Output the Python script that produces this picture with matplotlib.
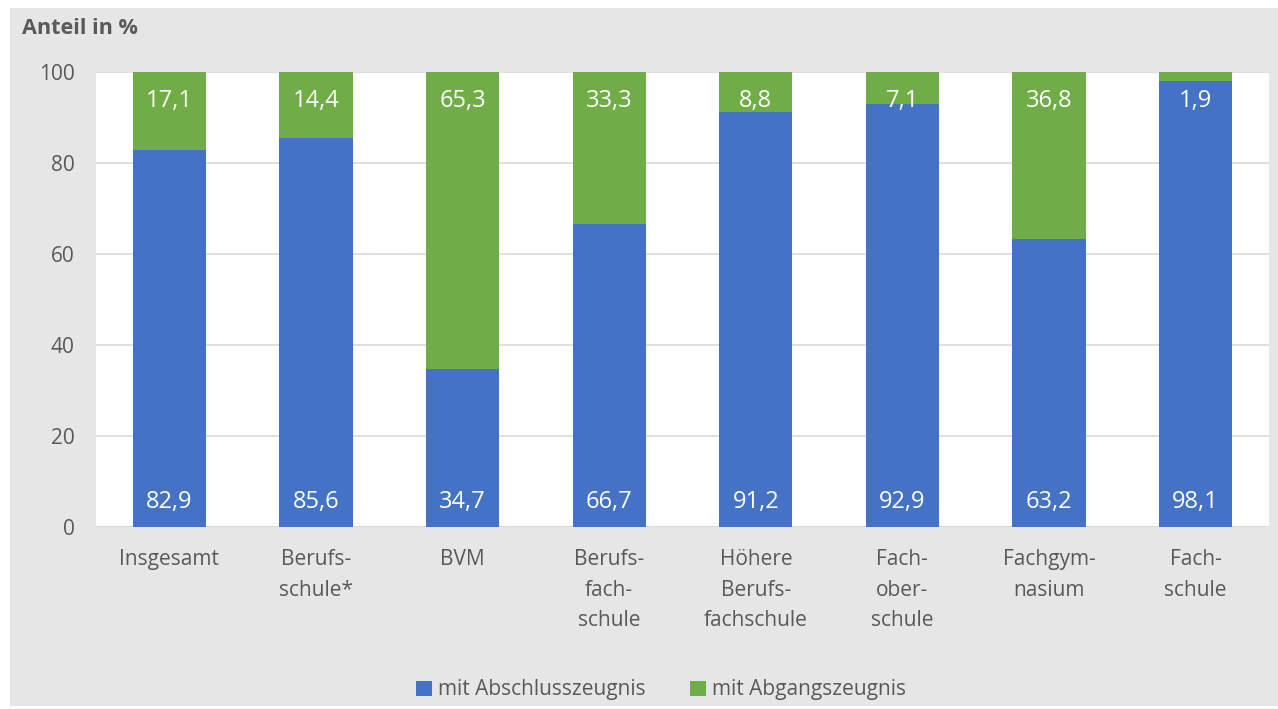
import numpy as np
import matplotlib
matplotlib.use("Agg")
import matplotlib.pyplot as plt
from matplotlib.patches import Rectangle

#-- DATI
kategorien = ["Insgesamt", "Berufs-\nschule*", "BVM", "Berufs-\nfach-\nschule",
              "Höhere\nBerufs-\nfachschule", "Fach-\nober-\nschule", "Fachgym-\nnasium", "Fach-\nschule"]
abschluss = [82.9, 85.6, 34.7, 66.7, 91.2, 92.9, 63.2, 98.1]
abgang    = [17.1, 14.4, 65.3, 33.3, 8.8, 7.1, 36.8, 1.9]
serien    = ["mit Abschlusszeugnis", "mit Abgangszeugnis"]

#-- STILE
BLAU  = "#4472c4"
GRUEN = "#70ad47"
GRAU  = "#e7e6e6"
TXT   = "#595959"
plt.rcParams['font.family'] = ['Open Sans', 'DejaVu Sans']

W, H = 1278, 709
fig = plt.figure(figsize=(W/100, H/100), dpi=100)
fig.patch.set_facecolor("white")
# sfondo grigio del grafico (dietro agli assi)
fig.add_artist(Rectangle((10/W, 3/H), (W-10)/W, (H-11)/H, transform=fig.transFigure,
                         facecolor=GRAU, edgecolor="none", zorder=-10))

ax = fig.add_axes([96/W, 1-527/H, (1269-96)/W, (527-72)/H])
ax.set_facecolor("white")

x = np.arange(len(kategorien))
b1 = ax.bar(x, abschluss, width=0.5, color=BLAU, label=serien[0], zorder=3)
b2 = ax.bar(x, abgang, width=0.5, bottom=abschluss, color=GRUEN, label=serien[1], zorder=3)

fs  = 15
fsd = 17   # etichette dati
for i in range(len(x)):
    ax.text(x[i], 5.6, f"{abschluss[i]:.1f}".replace(".", ","), ha="center", va="center",
            color="white", fontsize=fsd, zorder=4)
    ax.text(x[i], 93.6, f"{abgang[i]:.1f}".replace(".", ","), ha="center", va="center",
            color="white", fontsize=fsd, zorder=4)

ax.set_xlim(-0.5, len(x)-0.5)
ax.set_ylim(0, 100)
ax.set_yticks(np.arange(0, 101, 20))
ax.yaxis.grid(True, color="#d9d9d9", linewidth=1.2, zorder=0)
ax.set_axisbelow(True)
for s in ax.spines.values():
    s.set_visible(False)
ax.axhline(0, color="#d9d9d9", linewidth=1.5, zorder=2)
ax.tick_params(length=0, labelsize=fs, labelcolor=TXT)
ax.tick_params(axis="y", pad=15.5)
ax.tick_params(axis="x", pad=16)
ax.set_xticks(x)
ax.set_xticklabels(kategorien, linespacing=1.58)

fig.text(22/W, 1-29/H, "Anteil in %", fontsize=15.6, fontweight="bold", color=TXT, va="center")

fig.legend(handles=[b1, b2], loc="center", bbox_to_anchor=(661/W, 1-690/H), ncol=2, frameon=False,
           fontsize=fs, labelcolor=TXT, handlelength=0.75, handleheight=0.75,
           handletextpad=0.3, columnspacing=2.15)

fig.savefig("out.png", dpi=100, facecolor=fig.get_facecolor())
